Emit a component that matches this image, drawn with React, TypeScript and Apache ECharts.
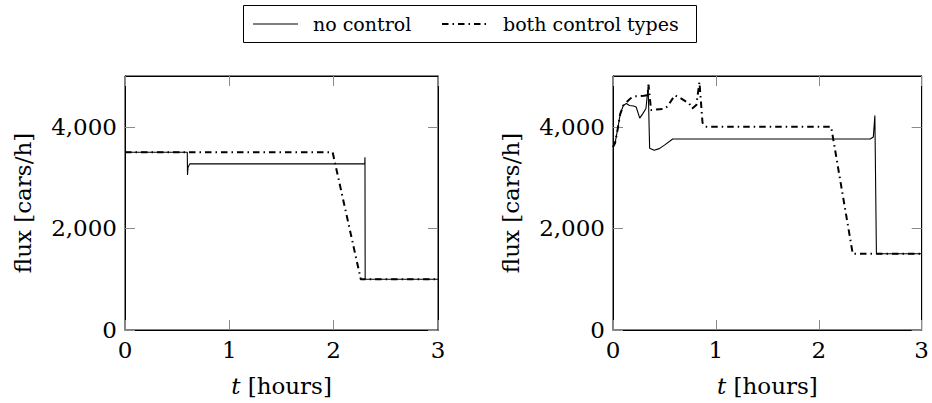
import React, { useEffect, useRef } from "react";
import * as echarts from "echarts";

// ---- data (t in hours, flux in cars/h) ----
const xTicks = [0, 1, 2, 3];
const yTicks = [0, 2000, 4000];
const seriesNames = ["no control", "both control types"];

const leftNoControl: [number, number][] = [
  [0, 3500], [0.597, 3500], [0.599, 3050], [0.604, 3200], [0.62, 3270],
  [2.298, 3270], [2.3, 3400], [2.302, 1000], [3, 1000],
];
const leftBoth: [number, number][] = [
  [0, 3500], [1.99, 3500], [2.26, 1000], [3, 1000],
];
const rightNoControl: [number, number][] = [
  [0, 3600], [0.02, 3680], [0.045, 3950], [0.07, 4250], [0.1, 4420],
  [0.13, 4460], [0.16, 4420], [0.2, 4410], [0.225, 4390], [0.26, 4170],
  [0.29, 4260], [0.32, 4360], [0.342, 4790], [0.356, 3580], [0.4, 3540],
  [0.45, 3570], [0.5, 3640], [0.58, 3760], [2.5, 3760], [2.53, 3800],
  [2.545, 4220], [2.56, 1500], [3, 1500],
];
const rightBoth: [number, number][] = [
  [0, 3600], [0.02, 3680], [0.045, 3950], [0.07, 4250], [0.1, 4420],
  [0.13, 4480], [0.17, 4560], [0.21, 4600], [0.3, 4610], [0.335, 4620],
  [0.345, 4830], [0.37, 4330], [0.42, 4340], [0.49, 4350], [0.53, 4400],
  [0.6, 4620], [0.66, 4560], [0.74, 4460], [0.77, 4360], [0.81, 4430],
  [0.84, 4880], [0.87, 4080], [0.9, 4000], [2.12, 4000], [2.33, 1500],
  [3, 1500],
];

const FONT = "DejaVu Serif";
const FS = 23;
const fmt = (v: number) => (v === 5000 ? "" : v.toLocaleString("en-US"));

const DASHDOT = [6.5, 4, 1.5, 4];

function xAxes(gridIndex: number) {
  const base = {
    type: "value" as const,
    gridIndex,
    min: 0,
    max: 3,
    interval: 1,
    splitLine: { show: false },
    axisLine: { show: true, onZero: false, lineStyle: { color: "#000", width: 1 } },
    axisTick: { show: true, inside: true, length: 10, lineStyle: { color: "#8a8a8a", width: 1 } },
  };
  return [
    {
      ...base,
      position: "bottom",
      axisLabel: { show: true, margin: 8, fontFamily: FONT, fontSize: FS, color: "#000", customValues: xTicks },
      name: "{i|t} [hours]",
      nameLocation: "middle",
      nameGap: 44,
      nameTextStyle: {
        fontFamily: FONT,
        fontSize: FS,
        color: "#000",
        rich: { i: { fontFamily: FONT, fontStyle: "italic", fontSize: FS, color: "#000" } },
      },
    },
    { ...base, position: "top", axisLabel: { show: false } },
  ];
}

function yAxes(gridIndex: number) {
  const base = {
    type: "value" as const,
    gridIndex,
    min: 0,
    max: 5000,
    splitLine: { show: false },
    axisLine: { show: true, onZero: false, lineStyle: { color: "#000", width: 1 } },
    axisTick: { show: true, inside: true, length: 10, customValues: yTicks, lineStyle: { color: "#8a8a8a", width: 1 } },
  };
  return [
    {
      ...base,
      position: "left",
      axisLabel: {
        show: true, margin: 8, fontFamily: FONT, fontSize: FS, color: "#000",
        customValues: yTicks, formatter: fmt,
      },
      name: "flux [cars/h]",
      nameLocation: "middle",
      nameRotate: 90,
      nameGap: 91,
      nameTextStyle: { fontFamily: FONT, fontSize: FS, color: "#000" },
    },
    { ...base, position: "right", axisLabel: { show: false } },
  ];
}

const solidStyle = { color: "#000", width: 1.1, type: "solid" as const };
const dashDotStyle = { color: "#000", width: 2, type: DASHDOT };

function lineSeries(name: string, data: [number, number][], idx: number, style: any) {
  return {
    type: "line",
    name,
    data,
    xAxisIndex: idx * 2,
    yAxisIndex: idx * 2,
    showSymbol: false,
    symbol: "none",
    lineStyle: style,
    itemStyle: { color: "#000" },
    emphasis: { disabled: true },
  };
}

const legendGraphic = [
  {
    type: "rect",
    shape: { x: 243.5, y: 5.5, width: 453, height: 37 },
    style: { fill: "#fff", stroke: "#000", lineWidth: 1 },
  },
  {
    type: "line",
    shape: { x1: 253, y1: 24, x2: 298, y2: 24 },
    style: { stroke: "#000", lineWidth: 1.1 },
  },
  {
    type: "text",
    x: 313,
    y: 24,
    style: { text: seriesNames[0], fontFamily: FONT, fontSize: 19, fill: "#000", verticalAlign: "middle", align: "left" },
  },
  {
    type: "line",
    shape: { x1: 442, y1: 24, x2: 488, y2: 24 },
    style: { stroke: "#000", lineWidth: 2, lineDash: DASHDOT },
  },
  {
    type: "text",
    x: 503,
    y: 24,
    style: { text: seriesNames[1], fontFamily: FONT, fontSize: 19, fill: "#000", verticalAlign: "middle", align: "left" },
  },
];

export default function App() {
  const ref = useRef<HTMLDivElement>(null);
  useEffect(() => {
    if (!ref.current) return;
    const chart = echarts.init(ref.current, undefined, { renderer: "svg" });
    chart.setOption({
      animation: false,
      backgroundColor: "#fff",
      grid: [
        { left: 125, top: 76, width: 313, height: 254, show: true, borderColor: "#000", borderWidth: 1, backgroundColor: "transparent" },
        { left: 613, top: 76, width: 312, height: 254, show: true, borderColor: "#000", borderWidth: 1, backgroundColor: "transparent" },
      ],
      xAxis: [...xAxes(0), ...xAxes(1)],
      yAxis: [...yAxes(0), ...yAxes(1)],
      series: [
        lineSeries(seriesNames[0], leftNoControl, 0, solidStyle),
        lineSeries(seriesNames[1], leftBoth, 0, dashDotStyle),
        lineSeries(seriesNames[0], rightNoControl, 1, solidStyle),
        lineSeries(seriesNames[1], rightBoth, 1, dashDotStyle),
      ],
      graphic: legendGraphic,
    });
    return () => chart.dispose();
  }, []);
  return (
    <div
      ref={ref}
      style={{ position: "fixed", left: 0, top: 0, width: 932, height: 403, background: "#fff" }}
    />
  );
}
